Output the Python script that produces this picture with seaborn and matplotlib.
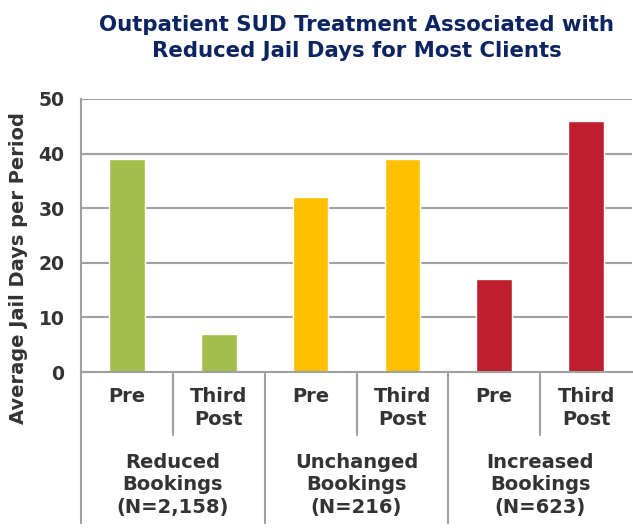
import numpy as np
import pandas as pd
import seaborn as sns
import matplotlib.pyplot as plt
import matplotlib.transforms as mtransforms

# data
groups = ["Reduced\nBookings\n(N=2,158)", "Unchanged\nBookings\n(N=216)", "Increased\nBookings\n(N=623)"]
periods = ["Pre", "Third\nPost"]
pre_days = [39, 32, 17]
post_days = [7, 39, 46]
group_colors = ["#A5BD4B", "#FFC000", "#BE1E2D"]

rows = []
for g, pre, post in zip(groups, pre_days, post_days):
    rows.append({"slot": g + "|" + periods[0], "group": g, "period": periods[0], "days": pre})
    rows.append({"slot": g + "|" + periods[1], "group": g, "period": periods[1], "days": post})
df = pd.DataFrame(rows)

sns.set_style("white")
plt.rcParams["font.family"] = ["DejaVu Sans"]

text_col = "#333333"
line_col = "#A0A0A0"

fig = plt.figure(figsize=(6.33, 5.29), dpi=100)
ax = fig.add_axes([81 / 633, 1 - 372 / 529, 551 / 633, 273 / 529])

sns.barplot(data=df, x="slot", y="days", hue="group", order=list(df["slot"]),
            palette=dict(zip(groups, group_colors)), dodge=False, width=0.39,
            saturation=1, legend=False, ax=ax)

ax.set_ylim(0, 50)
ax.set_xlim(-0.5, 5.5)
ax.set_yticks([0, 10, 20, 30, 40, 50])
ax.yaxis.grid(True, color=line_col, linewidth=1.5)
ax.set_axisbelow(True)
for side in ["top", "right"]:
    ax.spines[side].set_visible(False)
for side in ["left", "bottom"]:
    ax.spines[side].set_color(line_col)
    ax.spines[side].set_linewidth(1.5)

ax.set_xlabel("")
ax.set_ylabel("")
ax.set_xticks(range(len(df)))
ax.set_xticklabels(list(df["period"]), fontsize=14, fontweight="bold", color=text_col,
                   linespacing=1.25)
ax.tick_params(axis="x", length=0, pad=11)
ax.tick_params(axis="y", length=4, width=1.5, color=line_col, pad=8,
               labelsize=13.5, labelcolor=text_col)
for lbl in ax.get_yticklabels():
    lbl.set_fontweight("bold")

# table lines under the axis
trans = mtransforms.blended_transform_factory(ax.transData, ax.transAxes)
for x in [0.5, 2.5, 4.5]:
    ax.plot([x, x], [0, -0.231], transform=trans, color=line_col, lw=1.5, clip_on=False)
for x in [-0.5, 1.5, 3.5]:
    ax.plot([x, x], [0, -0.553], transform=trans, color=line_col, lw=1.5, clip_on=False)

for i, g in enumerate(groups):
    ax.text(2 * i + 0.5, -0.295, g, transform=trans, ha="center", va="top",
            fontsize=14, fontweight="bold", color=text_col, linespacing=1.25)

fig.text(19 / 633, 1 - 268 / 529, "Average Jail Days per Period", rotation=90,
         ha="center", va="center", fontsize=14, fontweight="bold", color=text_col)

ax.set_title("Outpatient SUD Treatment Associated with\nReduced Jail Days for Most Clients",
             fontsize=15.3, fontweight="bold", color="#0C2461", pad=30, linespacing=1.4)

fig.savefig("out.png", dpi=100)
